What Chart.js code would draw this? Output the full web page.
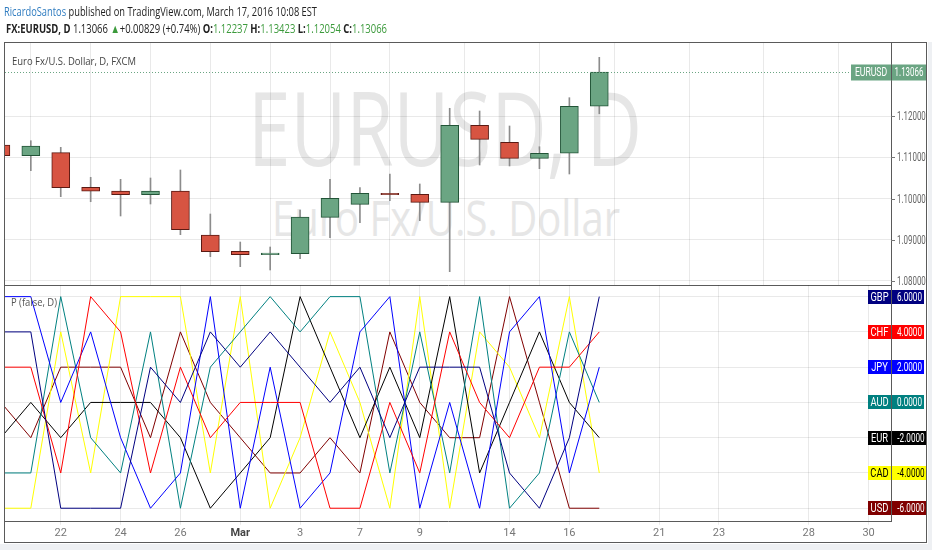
<!DOCTYPE html>
<html>
<head>
<meta charset="utf-8">
<script src="https://cdn.jsdelivr.net/npm/chart.js@4.4.1/dist/chart.umd.min.js"></script>
<style>
  body { margin: 0; width: 932px; height: 550px; position: relative; overflow: hidden; background: #fff; font-family: "Open Sans", sans-serif; }
  .txt { position: absolute; white-space: nowrap; line-height: 1; transform-origin: 0 0; }
  canvas { position: absolute; left: 0; }
  #frame { position: absolute; left: 4px; top: 42px; width: 923px; height: 501px; border: 1px solid #5a5a5a; box-sizing: border-box; pointer-events: none; }
  .strip { position: absolute; background: #eef0f3; }
  .g { color: #3c9a3c; }
  b { font-weight: 700; }
</style>
</head>
<body>
<div class="txt fit" data-w="394" style="left:248px;top:76px;font-size:102px;color:#e6e6e6">EURUSD, D</div>
<div class="txt fit" data-w="348" style="left:272px;top:192px;font-size:50px;color:#e6e6e6">Euro Fx/U.S. Dollar</div>

<canvas id="priceChart" width="932" height="286" style="top:0"></canvas>
<canvas id="rankChart" width="932" height="265" style="top:285px"></canvas>

<div class="strip" style="left:0;top:544px;width:932px;height:6px"></div>
<div class="strip" style="left:928px;top:42px;width:4px;height:508px"></div>
<div id="frame"></div>

<div class="txt fit" data-w="313" style="left:4px;top:6px;font-size:12.5px;color:#222"><span style="color:#2f7cc0">RicardoSantos</span> published on TradingView.com, March 17, 2016 10:08 EST</div>
<div id="quote" class="txt fit" data-w="381" style="left:6px;top:23px;font-size:12.5px;color:#222"></div>
<div class="txt fit" data-w="124" style="left:12px;top:55px;font-size:11.5px;color:#444">Euro Fx/U.S. Dollar, D, FXCM</div>
<div class="txt fit" data-w="46" style="left:11px;top:296px;font-size:11px;color:#555">P (false, D)</div>

<script>
// trading days on the time axis (weekends skipped)
const axisDays = ["Feb 18", "Feb 19", "Feb 22", "Feb 23", "Feb 24", "Feb 25", "Feb 26", "Feb 29",
  "Mar 1", "Mar 2", "Mar 3", "Mar 4", "Mar 7", "Mar 8", "Mar 9", "Mar 10", "Mar 11",
  "Mar 14", "Mar 15", "Mar 16", "Mar 17", "Mar 18", "Mar 21", "Mar 22", "Mar 23", "Mar 24",
  "Mar 25", "Mar 28", "Mar 29", "Mar 30", "Mar 31"];
const shownDays = ["Feb 22", "Feb 24", "Feb 26", "Mar 1", "Mar 3", "Mar 7", "Mar 9", "Mar 14",
  "Mar 16", "Mar 21", "Mar 23", "Mar 28", "Mar 30"];

// EURUSD daily candles, Feb 18 .. Mar 17
const openPrices = [1.11297, 1.11040, 1.11111, 1.10271, 1.10182, 1.10092, 1.10182, 1.09115, 1.08720, 1.08638, 1.08661,
  1.09544, 1.09859, 1.10125, 1.10101, 1.09907, 1.11774, 1.11362, 1.10974, 1.11096, 1.12237];
const highPrices = [1.11350, 1.11401, 1.11241, 1.10514, 1.10465, 1.10497, 1.10691, 1.09624, 1.08945, 1.08824, 1.09721,
  1.10465, 1.10262, 1.10594, 1.10352, 1.12187, 1.12121, 1.11758, 1.11256, 1.12444, 1.13423];
const lowPrices = [1.10990, 1.10674, 1.10044, 1.09922, 1.09576, 1.09867, 1.09123, 1.08590, 1.08347, 1.08267, 1.08541,
  1.09050, 1.09414, 1.09947, 1.09462, 1.08226, 1.10812, 1.10788, 1.10723, 1.10594, 1.12054];
const closePrices = [1.11038, 1.11273, 1.10262, 1.10176, 1.10092, 1.10182, 1.09244, 1.08711, 1.08638, 1.08679, 1.09552,
  1.10004, 1.10125, 1.10093, 1.09907, 1.11774, 1.11435, 1.10974, 1.11096, 1.12237, 1.13066];
const priceTicks = [1.08, 1.09, 1.10, 1.11, 1.12];

// currency strength ranks
const gbpRank = [4, 4, -6, -6, -6, 2, 0, 4, 2, 4, 2, 0, 2, -2, 2, 2, 2, -4, -6, -2, 6];
const chfRank = [2, 2, -4, 6, 4, -4, 2, -2, 0, 0, 0, -6, -6, 0, -4, 4, 0, -2, 2, 2, 4];
const jpyRank = [6, 6, 0, 4, -2, -6, -4, 6, -6, 2, -6, -4, 4, 6, -6, 0, -6, 4, 6, -4, 2];
const audRank = [-4, -4, 6, -2, -4, 4, -6, 2, 4, 6, 4, 6, 6, -4, 4, -4, 6, -6, -4, 4, 0];
const eurRank = [-2, 0, -2, 0, 0, 0, -2, -6, -4, -2, 6, 2, -2, 2, -2, 6, -4, 0, 4, 0, -2];
const cadRank = [-6, -6, 4, -4, 6, 6, 6, -4, 6, -6, -2, 4, 0, -6, 6, -6, 4, 2, -2, 6, -4];
const usdRank = [0, -2, 2, 2, 2, -2, 4, 0, -2, -4, -4, -2, -4, 4, 0, -2, -2, 6, 0, -6, -6];
const rankLevels = [-6, -4, -2, 0, 2, 4, 6];

const currencies = [
  { name: "GBP", data: gbpRank, color: "#000080", text: "#fff" },
  { name: "CHF", data: chfRank, color: "#ff0000", text: "#fff" },
  { name: "JPY", data: jpyRank, color: "#0000ff", text: "#fff" },
  { name: "AUD", data: audRank, color: "#008080", text: "#fff" },
  { name: "EUR", data: eurRank, color: "#000000", text: "#fff" },
  { name: "CAD", data: cadRank, color: "#ffff00", text: "#000" },
  { name: "USD", data: usdRank, color: "#800000", text: "#fff" },
];

const UP = "#6ba583", UP_LINE = "#225437", DOWN = "#d75442", DOWN_LINE = "#5b1a13";
const X_MIN = 0.137, X_MAX = 29.75;
const GRID = "rgba(0,0,0,0.085)";

// header quote line
const n = closePrices.length - 1;
const change = closePrices[n] - closePrices[n - 1];
const pct = change / closePrices[n - 1] * 100;
document.getElementById("quote").innerHTML =
  `<b>FX:EURUSD, D</b> ${closePrices[n].toFixed(5)} <span class="g">&#9650;</span>+${change.toFixed(5)} (+${pct.toFixed(2)}%) ` +
  `<b>O:</b><span class="g">${openPrices[n].toFixed(5)}</span> <b>H:</b><span class="g">${highPrices[n].toFixed(5)}</span> ` +
  `<b>L:</b><span class="g">${lowPrices[n].toFixed(5)}</span> <b>C:</b><span class="g">${closePrices[n].toFixed(5)}</span>`;

function drawNarrow(ctx, text, x, y, color, align, size, k) {
  ctx.save();
  ctx.font = size + "px Roboto";
  ctx.fillStyle = color;
  ctx.textBaseline = "middle";
  ctx.textAlign = "left";
  const w = ctx.measureText(text).width * k;
  const x0 = align === "right" ? x - w : align === "center" ? x - w / 2 : x;
  ctx.translate(x0, y);
  ctx.scale(k, 1);
  ctx.fillText(text, 0, 0);
  ctx.restore();
}

const xTicks = shownDays.map((d) => axisDays.indexOf(d));
function dayLabel(v) {
  const d = axisDays[Math.round(v)];
  if (!d) return "";
  const parts = d.split(" ");
  return parts[1] === "1" ? parts[0] : parts[1];
}

Chart.defaults.font.family = "Roboto";
Chart.defaults.animation = false;

const candleIdx = closePrices.map((c, i) => i);

const priceLabels = {
  id: "priceLabels",
  afterDraw(chart) {
    const ctx = chart.ctx;
    const area = chart.chartArea;
    const y = chart.scales.y;
    priceTicks.forEach((v) => {
      const py = Math.round(y.getPixelForValue(v)) + 0.5;
      ctx.strokeStyle = "#777";
      ctx.lineWidth = 1;
      ctx.beginPath();
      ctx.moveTo(area.right, py);
      ctx.lineTo(area.right + 4, py);
      ctx.stroke();
      drawNarrow(ctx, v.toFixed(5), area.right + 6, py, "#666", "left", 12, 0.66);
    });
    // last price line and labels
    const last = closePrices[n];
    const py = Math.round(y.getPixelForValue(last)) + 0.5;
    ctx.save();
    ctx.strokeStyle = UP;
    ctx.setLineDash([1, 2]);
    ctx.beginPath();
    ctx.moveTo(area.left, py);
    ctx.lineTo(area.right - 40, py);
    ctx.stroke();
    ctx.restore();
    ctx.fillStyle = UP;
    ctx.fillRect(area.right - 40, py - 8, 40, 16);
    ctx.fillRect(area.right, py - 8, 36, 16);
    drawNarrow(ctx, "EURUSD", area.right - 20, py, "#fff", "center", 12, 0.72);
    drawNarrow(ctx, last.toFixed(5), area.right + 18, py, "#fff", "center", 12, 0.66);
    ctx.fillStyle = "#5a5a5a";
    ctx.fillRect(area.right, py - 8, 1, 16);
  },
};

new Chart(document.getElementById("priceChart"), {
  type: "bar",
  data: {
    datasets: [
      {
        label: "body",
        data: candleIdx.map((i) => ({ x: i, y: [openPrices[i], closePrices[i]] })),
        backgroundColor: candleIdx.map((i) => (closePrices[i] >= openPrices[i] ? UP : DOWN)),
        borderColor: candleIdx.map((i) => (closePrices[i] >= openPrices[i] ? UP_LINE : DOWN_LINE)),
        borderWidth: 1,
        borderSkipped: false,
        barThickness: 18,
        grouped: false,
        order: 0,
      },
      {
        label: "wick",
        data: candleIdx.map((i) => ({ x: i, y: [lowPrices[i], highPrices[i]] })),
        backgroundColor: "#8c8c8c",
        barThickness: 1,
        grouped: false,
        order: 1,
      },
    ],
  },
  options: {
    responsive: false,
    layout: { padding: { top: 42, left: 5, right: 0, bottom: 1 } },
    plugins: { legend: { display: false }, tooltip: { enabled: false } },
    scales: {
      x: {
        type: "linear",
        min: X_MIN,
        max: X_MAX,
        offset: false,
        afterBuildTicks: (s) => { s.ticks = xTicks.map((v) => ({ value: v })); },
        ticks: { display: false },
        grid: { color: GRID, drawTicks: false },
        border: { display: true, color: "#5a5a5a" },
      },
      y: {
        position: "right",
        min: 1.07903,
        max: 1.13794,
        afterBuildTicks: (s) => { s.ticks = priceTicks.map((v) => ({ value: v })); },
        afterFit: (s) => { s.width = 41; },
        ticks: { display: false },
        grid: { color: GRID, drawTicks: false },
        border: { display: true, color: "#5a5a5a" },
      },
    },
  },
  plugins: [priceLabels],
});

const rankLabels = {
  id: "rankLabels",
  afterDraw(chart) {
    const ctx = chart.ctx;
    const area = chart.chartArea;
    const y = chart.scales.y;
    currencies.forEach((c) => {
      const v = c.data[c.data.length - 1];
      const py = Math.round(y.getPixelForValue(v));
      const valueText = v.toFixed(4);
      const wVal = v < 0 ? 36 : 33;
      ctx.fillStyle = c.color;
      ctx.fillRect(area.right - 23, py - 7, 23, 14);
      ctx.fillRect(area.right, py - 7, wVal, 14);
      drawNarrow(ctx, c.name, area.right - 11.5, py + 0.5, c.text, "center", 12, 0.78);
      drawNarrow(ctx, valueText, area.right + 4 + (wVal - 4) / 2, py + 0.5, c.text, "center", 12, 0.68);
      ctx.fillStyle = "#5a5a5a";
      ctx.fillRect(area.right, py - 7, 1, 14);
    });
  },
};

new Chart(document.getElementById("rankChart"), {
  type: "line",
  data: {
    datasets: currencies.map((c) => ({
      label: c.name,
      data: c.data.map((v, i) => ({ x: i, y: v })),
      borderColor: c.color,
      borderWidth: 1,
      pointRadius: 0,
      tension: 0,
      fill: false,
    })),
  },
  options: {
    responsive: false,
    layout: { padding: { top: 0, left: 5, right: 0, bottom: 8 } },
    plugins: { legend: { display: false }, tooltip: { enabled: false } },
    scales: {
      x: {
        type: "linear",
        min: X_MIN,
        max: X_MAX,
        afterBuildTicks: (s) => { s.ticks = xTicks.map((v) => ({ value: v })); },
        ticks: {
          maxRotation: 0,
          autoSkip: false,
          padding: 2,
          callback: (v) => dayLabel(v),
          color: (c) => (c.tick && dayLabel(c.tick.value) === "Mar" ? "#444" : "#777"),
          font: (c) => ({ size: 11, weight: c.tick && dayLabel(c.tick.value) === "Mar" ? "bold" : "normal" }),
        },
        grid: { color: GRID, tickLength: 3 },
        border: { display: true, color: "#5a5a5a" },
      },
      y: {
        position: "right",
        min: -6.77,
        max: 6.66,
        afterBuildTicks: (s) => { s.ticks = rankLevels.map((v) => ({ value: v })); },
        afterFit: (s) => { s.width = 41; },
        ticks: { display: false },
        grid: { color: GRID, drawTicks: false },
        border: { display: true, color: "#5a5a5a" },
      },
    },
  },
  plugins: [rankLabels],
});

// squeeze the html texts to the narrow widths of the original
document.fonts.ready.then(() => {
  document.querySelectorAll(".fit").forEach((el) => {
    const w = el.getBoundingClientRect().width;
    el.style.transform = "scaleX(" + (Number(el.dataset.w) / w) + ")";
  });
});
</script>
</body>
</html>
